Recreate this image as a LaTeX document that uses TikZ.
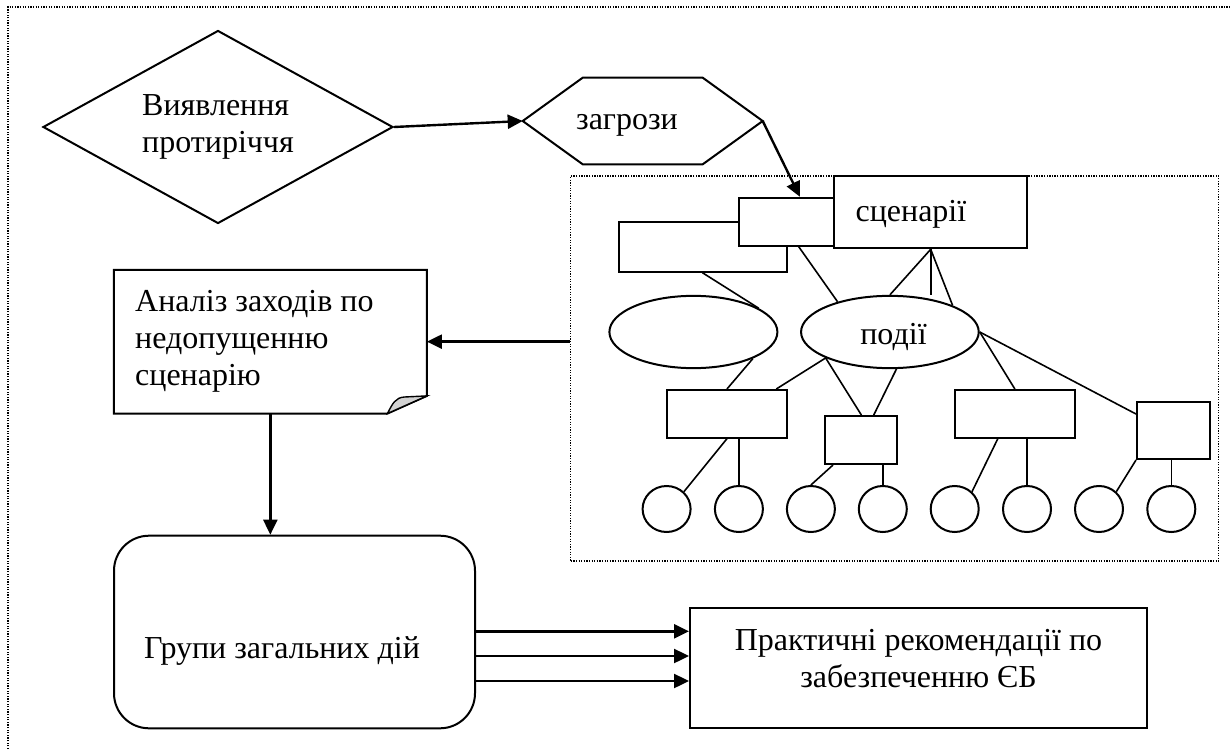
\documentclass[tikz,border=0pt]{standalone}
\usepackage{fontspec}
\setmainfont{Liberation Serif}
\usetikzlibrary{arrows.meta,shapes.geometric,calc}
\begin{document}
\begin{tikzpicture}[x=1pt,y=-1pt,
  shp/.style={draw, line width=2pt, inner sep=0pt, fill=white},
  box/.style={shp, rectangle},
  ell/.style={shp, ellipse},
  circ/.style={shp, ellipse, minimum width=48pt, minimum height=46pt},
  conn/.style={line width=1.6pt},
  arr/.style={line width=2.4pt, -{Triangle[length=15pt,width=14pt]}},
  frame/.style={line width=1.4pt, dash pattern=on 1.3pt off 1.3pt},
  txt/.style={font=\fontsize{32}{37}\selectfont, inner sep=0pt},
]
\useasboundingbox (0,0) rectangle (1231,749);
\draw[frame] (8,749) -- (8,7) -- (1231,7);

% diamond
\node[shp, diamond, aspect=1.81, minimum width=350pt, minimum height=193pt, txt, align=left] (D) at (218,127) {Виявлення\\протиріччя};

% hexagon
\coordinate (Hc) at (642.7,121);
\draw[line width=2pt] ($(Hc)+(-120,0)$) coordinate (Hw) -- ($(Hc)+(-60,-43.3)$) -- ($(Hc)+(60,-43.3)$) -- ($(Hc)+(120,0)$) coordinate (He) -- ($(Hc)+(60,43.3)$) -- ($(Hc)+(-60,43.3)$) -- cycle;
\node[txt] (H) at (627,125) {загрози};

% dotted scenario frame
\node[draw, frame, rectangle, minimum width=648pt, minimum height=385pt, inner sep=0pt] (B) at (894.7,368.5) {};

% top boxes
\node[box, minimum width=168.3pt, minimum height=50pt] (RL) at (702.75,246.7) {};
\node[box, minimum width=101pt, minimum height=48pt] (R0) at (789.5,221.7) {};
\node[box, minimum width=192.6pt, minimum height=72.3pt] (S) at (930.7,212.15) {};
\node[txt, anchor=west] (St) at (855.4,214) {сценарії};

% ellipses
\node[ell, minimum width=168pt, minimum height=72.3pt] (E1) at (693.4,332) {};
\node[ell, minimum width=177.7pt, minimum height=72.3pt] (E2) at (889.9,332) {};
\node[txt] (E2t) at (893.5,337) {події};

% second-level boxes
\node[box, minimum width=119.9pt, minimum height=47.7pt] (r1) at (726.95,413.85) {};
\node[box, minimum width=71.9pt, minimum height=48pt] (r2) at (861.35,440) {};
\node[box, minimum width=120.3pt, minimum height=47.7pt] (r3) at (1014.85,413.85) {};
\node[box, minimum width=72.7pt, minimum height=57.3pt] (r4) at (1173.35,430.35) {};

% circles
\foreach \i/\x in {1/666.6,2/738.9,3/810.9,4/882.8,5/954.7,6/1027,7/1099,8/1171.3}
  \node[circ] (c\i) at (\x,509) {};

% tree connectors
\draw[conn] ([xshift=84.8pt]RL.south west) -- (E1.20);
\draw[conn] ([xshift=60.7pt]R0.south west) -- (E2.150);
\draw[conn] (S.south) -- (E2.north);
\draw[conn] (S.south) -- (S.south |- E2.north);
\draw[conn] (S.south) -- (E2.23);
\draw[conn] (E2.202) -- ([xshift=-11.6pt]r1.north east);
\draw[conn] (E2.202) -- (r2.north);
\draw[conn] (E2.-80) -- ([xshift=12.4pt]r2.north);
\draw[conn] (E2.east) -- (r3.north);
\draw[conn] (E2.east) -- ([yshift=-13.3pt]r4.north west);
\draw[conn] (E1.-24) -- (r1.north);
\draw[conn] (r1.south) -- (c1.45);
\draw[conn] (c2.north |- r1.south) -- (c2.north);
\draw[conn] ([xshift=8.6pt]r2.south west) -- (c3.north);
\draw[conn] (c4.north |- r2.south) -- (c4.north);
\draw[conn] ([xshift=44.1pt]r3.south west) -- (c5.45);
\draw[conn] (c6.north |- r3.south) -- (c6.north);
\draw[conn] (r4.south west) -- (c7.45);
\draw[conn] (c8.north |- r4.south) -- (c8.north);

% document shape
\node[rectangle, minimum width=312.7pt, minimum height=143.3pt, inner sep=0pt] (N) at (270.35,341.65) {};
\coordinate (f1) at ([xshift=-39.4pt]N.south east);
\coordinate (f2) at ([yshift=17.6pt]N.south east);
\draw[line width=2pt] (N.north west) -- (N.north east) -- (f2) -- (f1) -- (N.south west) -- cycle;
\filldraw[fill=gray!35, line width=1.4pt] (f1) .. controls ($(f1)+(5,-10)$) and ($(f1)+(8,-16)$) .. ($(f1)+(17,-16.5)$) -- (f2) -- cycle;
\node[txt, anchor=north west, align=left] (Nt) at (135,290) {Аналіз заходів по\\недопущенню\\сценарію};

% rounded box
\node[shp, rectangle, rounded corners=35pt, minimum width=361pt, minimum height=192.6pt] (G) at (294.5,632) {};
\node[txt] (Gt) at (282,651) {Групи загальних дій};

% recommendations box
\node[box, minimum width=457pt, minimum height=120.6pt] (P) at (918.5,668) {};
\node[txt, align=center] (Pt) at (918.5,659) {Практичні рекомендації по\\забезпеченню ЄБ};

% arrows
\draw[arr] (D.east) -- (Hw);
\draw[arr] (He) -- ([xshift=61.8pt]R0.north west);
\draw[arr] (B.west |- N.east) -- (N.east);
\draw[arr] (N.south) -- (N.south |- G.north);
\coordinate (g1) at ([yshift=0.7pt]G.east);
\coordinate (g2) at ([yshift=-24pt]G.east);
\coordinate (g3) at ([yshift=-49pt]G.east);
\draw[arr] (g1) -- (g1 -| P.west);
\draw[arr] (g2) -- (g2 -| P.west);
\draw[arr] (g3) -- (g3 -| P.west);
\end{tikzpicture}
\end{document}
